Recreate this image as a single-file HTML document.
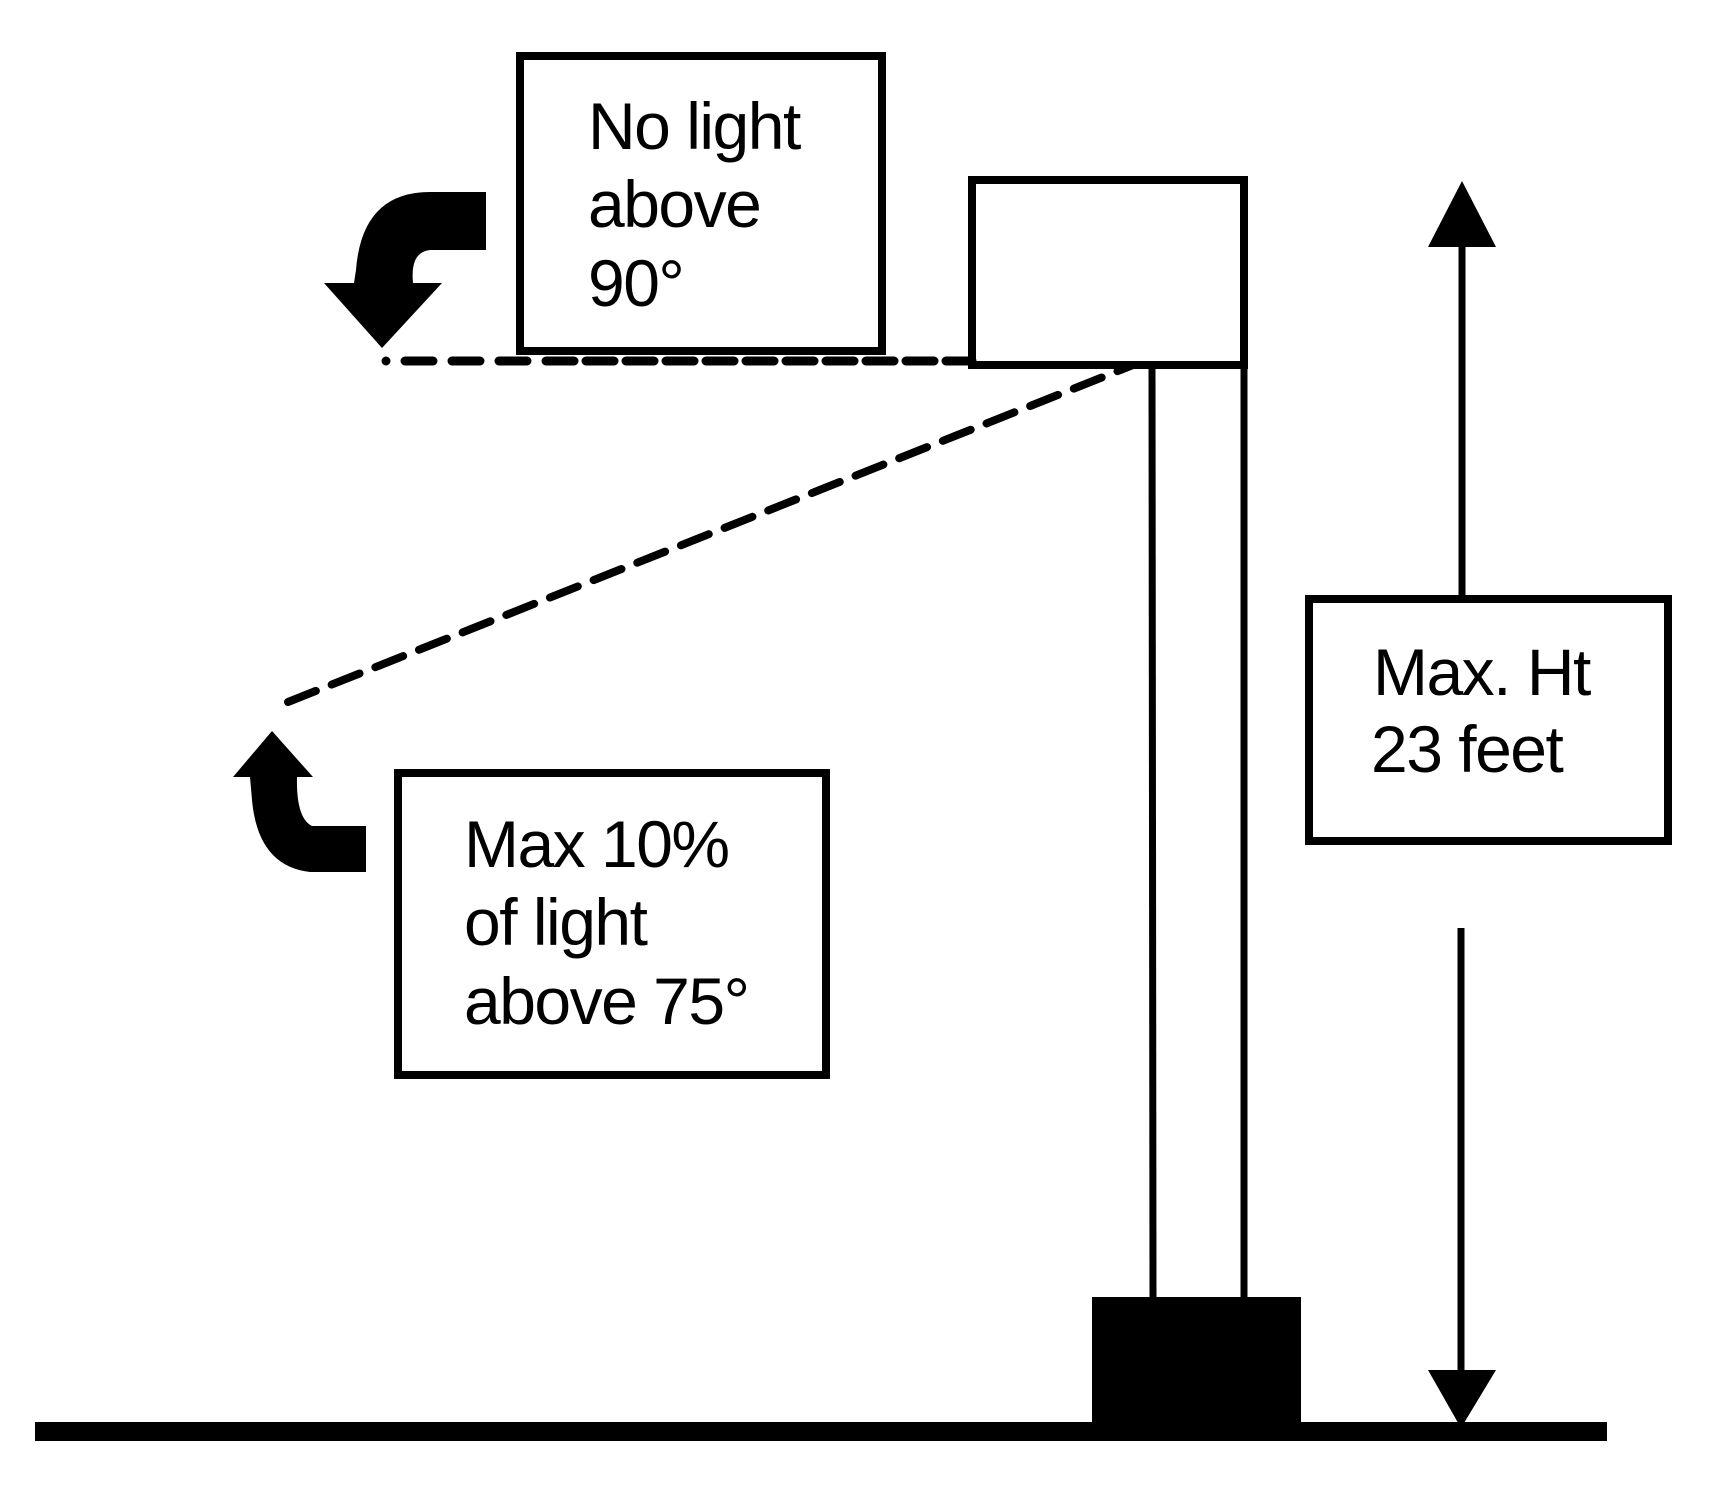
<!DOCTYPE html>
<html><head><meta charset="utf-8"><style>
html,body{margin:0;padding:0;background:#fff;}
svg{display:block;}
text{font-family:"Liberation Sans",Arial,sans-serif;font-size:66px;fill:#000;letter-spacing:-1.5px;}
</style></head><body>
<svg width="1714" height="1488" viewBox="0 0 1714 1488" xmlns="http://www.w3.org/2000/svg">
<rect width="1714" height="1488" fill="#fff"/>
<!-- top box -->
<rect x="520" y="56" width="362" height="295" fill="none" stroke="#000" stroke-width="8"/>
<text x="588" y="149">No light</text>
<text x="588" y="227">above</text>
<text x="588" y="306">90°</text>
<!-- horizontal dashed line -->
<line x1="386" y1="361" x2="972" y2="361" stroke="#000" stroke-width="9" stroke-linecap="round" stroke-dasharray="0 19 28 19 28 19 28 19 28 12 28 12 28 12 28 12 28 12 28 12 28 12 28 12 28 12 28 12 28 12 28 12 28 12 28 12 28 12 28 12"/>
<!-- diagonal dashed -->
<line x1="288" y1="702" x2="1133" y2="365" stroke="#000" stroke-width="8" stroke-linecap="round" stroke-dasharray="30 17"/>
<!-- top curved arrow -->
<path d="M486,192 L430,192 Q362,192 356,270 L354,283 L324,283 L382,348 L442,283 L413,283 Q410,252 430,250 L486,250 Z" fill="#000"/>
<!-- luminaire -->
<rect x="972" y="180" width="272" height="185" fill="none" stroke="#000" stroke-width="8"/>
<!-- pole -->
<line x1="1152" y1="365" x2="1153" y2="1300" stroke="#000" stroke-width="7"/>
<line x1="1244" y1="365" x2="1244" y2="1300" stroke="#000" stroke-width="7"/>
<!-- base -->
<rect x="1092" y="1297" width="209" height="135" fill="#000"/>
<!-- ground -->
<rect x="35" y="1422" width="1572" height="19" fill="#000"/>
<!-- height arrows -->
<line x1="1462" y1="240" x2="1462" y2="600" stroke="#000" stroke-width="7"/>
<polygon points="1462,181 1496,247 1428,247" fill="#000"/>
<line x1="1461" y1="928" x2="1461" y2="1380" stroke="#000" stroke-width="7"/>
<polygon points="1428,1370 1496,1370 1461,1428" fill="#000"/>
<!-- right box -->
<rect x="1309" y="599" width="359" height="242" fill="none" stroke="#000" stroke-width="8"/>
<text x="1373" y="695">Max. Ht</text>
<text x="1371" y="772">23 feet</text>
<!-- lower curved arrow -->
<path d="M272,731 L313,777 L297,777 Q296,818 312,826 L366,826 L366,872 L310,872 Q258,866 252,800 L250,777 L233,777 Z" fill="#000"/>
<!-- bottom box -->
<rect x="398" y="773" width="428" height="302" fill="none" stroke="#000" stroke-width="8"/>
<text x="464" y="867">Max 10%</text>
<text x="464" y="945">of light</text>
<text x="464" y="1024">above 75°</text>
</svg>
</body></html>
